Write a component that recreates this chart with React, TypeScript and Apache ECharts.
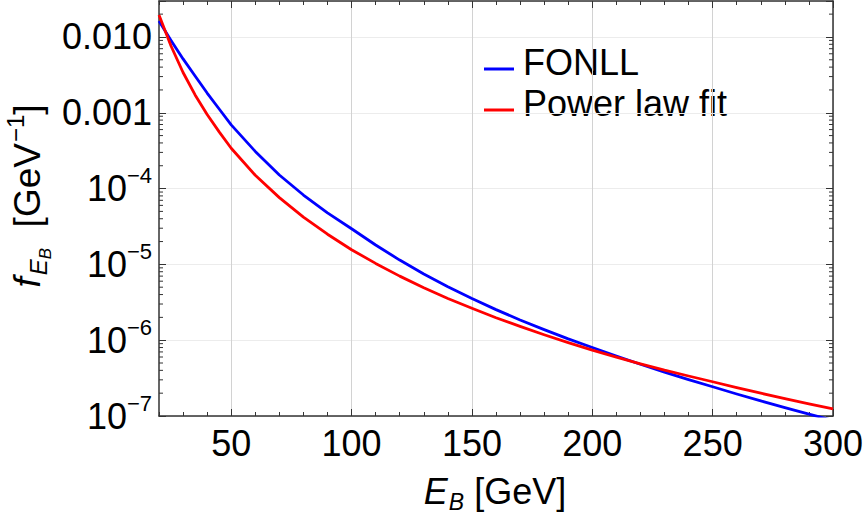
import React, { useEffect, useRef } from "react";
import * as echarts from "echarts";

// E_B [GeV]
const energies = [20, 25, 30, 35, 40, 45, 50, 60, 70, 80, 90, 100, 110, 120, 130, 140, 150, 160, 170, 180, 190, 200, 210, 220, 230, 240, 250, 260, 270, 280, 290, 300];
// FONLL (blue)
const fonll = [0.0162, 9.0e-3, 5.13e-3, 3.05e-3, 1.82e-3, 1.12e-3, 6.92e-4, 3.09e-4, 1.51e-4, 8.22e-5, 4.79e-5, 2.95e-5, 1.80e-5, 1.14e-5, 7.48e-6, 5.08e-6, 3.54e-6, 2.53e-6, 1.85e-6, 1.38e-6, 1.04e-6, 8.0e-7, 6.16e-7, 4.81e-7, 3.79e-7, 3.02e-7, 2.43e-7, 1.95e-7, 1.58e-7, 1.29e-7, 1.06e-7, 8.75e-8];
// Power law fit (red)
const powerLaw = [0.0195, 7.6e-3, 3.4e-3, 1.72e-3, 9.5e-4, 5.6e-4, 3.4e-4, 1.5e-4, 7.6e-5, 4.2e-5, 2.5e-5, 1.56e-5, 1.03e-5, 7.0e-6, 4.92e-6, 3.55e-6, 2.64e-6, 1.98e-6, 1.52e-6, 1.18e-6, 9.3e-7, 7.39e-7, 5.98e-7, 4.88e-7, 4.02e-7, 3.37e-7, 2.83e-7, 2.37e-7, 2.0e-7, 1.70e-7, 1.45e-7, 1.24e-7];

const xMin = 20;
const xMax = 300;
const xMajorTicks = [50, 100, 150, 200, 250, 300];
const yMin = 1e-7;
const yMax = 0.0298;
const yDecades = [1e-7, 1e-6, 1e-5, 1e-4, 1e-3, 1e-2];
const yMinorMultipliers = [2, 3, 4, 5, 6, 7, 8, 9];

const FONT = "'Liberation Sans', Arial, Helvetica, sans-serif";
const AXIS_COLOR = "#333333";

function yLabel(v: number): string {
  const e = Math.round(Math.log10(v));
  if (Math.abs(v / Math.pow(10, e) - 1) > 1e-6) return "";
  if (e === -2) return "0.010";
  if (e === -3) return "0.001";
  return `{b|10}{s|\u2212${-e}}`;
}

export default function App() {
  const ref = useRef<HTMLDivElement>(null);

  useEffect(() => {
    if (!ref.current) return;
    const chart = echarts.init(ref.current, null, { renderer: "svg" });

    const minorY: number[][] = [];
    yDecades.forEach((d) => {
      yMinorMultipliers.forEach((m) => {
        const v = d * m;
        if (v < yMax) minorY.push([xMin, v]);
      });
    });

    const xBase = {
      type: "value",
      min: xMin,
      max: xMax,
      gridIndex: 0,
    };

    const option: any = {
      animation: false,
      backgroundColor: "#ffffff",
      grid: {
        left: 159,
        top: 1,
        right: 32,
        bottom: 105,
        containLabel: false,
        outerBoundsMode: "none",
      },
      xAxis: [
        {
          ...xBase,
          position: "bottom",
          interval: 10,
          axisLine: { show: true, onZero: false, lineStyle: { color: AXIS_COLOR, width: 1.5 } },
          axisTick: { show: true, inside: true, length: 4, lineStyle: { color: AXIS_COLOR } },
          axisLabel: {
            show: true,
            margin: 9,
            fontSize: 36,
            fontFamily: FONT,
            color: "#000",
            formatter: (v: number) => (v % 50 === 0 ? String(v) : ""),
          },
          splitLine: { show: false },
        },
        {
          ...xBase,
          position: "bottom",
          axisLine: { show: false, onZero: false },
          axisTick: { show: true, inside: true, length: 7, customValues: xMajorTicks, lineStyle: { color: AXIS_COLOR } },
          axisLabel: { show: false },
          splitLine: { show: true, lineStyle: { color: "#d2d2d2", width: 1 } },
        },
        {
          ...xBase,
          position: "top",
          interval: 10,
          axisLine: { show: true, onZero: false, lineStyle: { color: AXIS_COLOR, width: 1.5 } },
          axisTick: { show: true, inside: true, length: 4, lineStyle: { color: AXIS_COLOR } },
          axisLabel: { show: false },
          splitLine: { show: false },
        },
        {
          ...xBase,
          position: "top",
          axisLine: { show: false, onZero: false },
          axisTick: { show: true, inside: true, length: 7, customValues: xMajorTicks, lineStyle: { color: AXIS_COLOR } },
          axisLabel: { show: false },
          splitLine: { show: false },
        },
      ],
      yAxis: [
        {
          type: "log",
          logBase: 10,
          min: yMin,
          max: yMax,
          position: "left",
          axisLine: { show: true, onZero: false, lineStyle: { color: AXIS_COLOR, width: 1.5 } },
          axisTick: { show: true, inside: true, length: 7, lineStyle: { color: AXIS_COLOR } },
          axisLabel: {
            show: true,
            margin: 7,
            fontSize: 36,
            fontFamily: FONT,
            color: "#000",
            formatter: yLabel,
            rich: {
              b: { fontSize: 36, fontFamily: FONT, color: "#000", lineHeight: 40 },
              s: { fontSize: 22, fontFamily: FONT, color: "#000", lineHeight: 22, padding: [0, 0, 26, 0] },
            },
          },
          splitLine: { show: true, lineStyle: { color: "#ececec", width: 1 } },
        },
        {
          type: "log",
          logBase: 10,
          min: yMin,
          max: yMax,
          position: "right",
          axisLine: { show: true, onZero: false, lineStyle: { color: AXIS_COLOR, width: 1.5 } },
          axisTick: { show: true, inside: true, length: 7, lineStyle: { color: AXIS_COLOR } },
          axisLabel: { show: false },
          splitLine: { show: false },
        },
      ],
      series: [
        {
          name: "FONLL",
          type: "line",
          xAxisIndex: 0,
          yAxisIndex: 0,
          data: energies.map((e, i) => [e, fonll[i]]),
          showSymbol: false,
          smooth: false,
          clip: true,
          lineStyle: { color: "#0000ff", width: 2.8, join: "round" },
          itemStyle: { color: "#0000ff" },
          z: 4,
        },
        {
          name: "Power law fit",
          type: "line",
          xAxisIndex: 0,
          yAxisIndex: 0,
          data: energies.map((e, i) => [e, powerLaw[i]]),
          showSymbol: false,
          smooth: false,
          clip: true,
          lineStyle: { color: "#ff0000", width: 2.8, join: "round" },
          itemStyle: { color: "#ff0000" },
          z: 5,
        },
        {
          type: "custom",
          xAxisIndex: 0,
          yAxisIndex: 0,
          silent: true,
          data: minorY,
          renderItem: (_params: any, api: any) => {
            const v = api.value(1);
            const l = api.coord([xMin, v]);
            const r = api.coord([xMax, v]);
            return {
              type: "group",
              children: [
                { type: "line", shape: { x1: l[0], y1: l[1], x2: l[0] + 4, y2: l[1] }, style: { stroke: AXIS_COLOR, lineWidth: 1 } },
                { type: "line", shape: { x1: r[0] - 4, y1: r[1], x2: r[0], y2: r[1] }, style: { stroke: AXIS_COLOR, lineWidth: 1 } },
              ],
            };
          },
          z: 3,
        },
      ],
      graphic: [
        // legend
        { type: "line", shape: { x1: 484, y1: 69, x2: 514, y2: 69 }, style: { stroke: "#0000ff", lineWidth: 3 } },
        { type: "text", x: 523, y: 62, style: { text: "FONLL", fontSize: 36, fontFamily: FONT, fill: "#000", align: "left", verticalAlign: "middle" } },
        { type: "line", shape: { x1: 484, y1: 110, x2: 514, y2: 110 }, style: { stroke: "#ff0000", lineWidth: 3 } },
        { type: "text", x: 523, y: 103, style: { text: "Power law fit", fontSize: 36, fontFamily: FONT, fill: "#000", align: "left", verticalAlign: "middle" } },
        // x axis title
        {
          type: "text",
          x: 495,
          y: 491,
          style: {
            text: "{i|E}{sub|B}{n| [GeV]}",
            align: "center",
            verticalAlign: "middle",
            rich: {
              i: { fontSize: 36, fontFamily: FONT, fontStyle: "italic", fill: "#000", lineHeight: 40 },
              sub: { fontSize: 23, fontFamily: FONT, fontStyle: "italic", fill: "#000", lineHeight: 23, padding: [22, 0, 0, 1] },
              n: { fontSize: 36, fontFamily: FONT, fill: "#000", lineHeight: 40 },
            },
          },
        },
        // y axis title
        {
          type: "text",
          x: 27,
          y: 196,
          rotation: Math.PI / 2,
          style: {
            text: "{i|f}{e|E}{b|B}{n|  [GeV}{s|\u22121}{n|]}",
            align: "center",
            verticalAlign: "middle",
            rich: {
              i: { fontSize: 37, fontFamily: FONT, fontStyle: "italic", fill: "#000", lineHeight: 40 },
              e: { fontSize: 24, fontFamily: FONT, fontStyle: "italic", fill: "#000", lineHeight: 24, padding: [22, 0, 0, 2] },
              b: { fontSize: 17, fontFamily: FONT, fontStyle: "italic", fill: "#000", lineHeight: 17, padding: [36, 0, 0, 0] },
              n: { fontSize: 37, fontFamily: FONT, fill: "#000", lineHeight: 40 },
              s: { fontSize: 24, fontFamily: FONT, fill: "#000", lineHeight: 24, padding: [0, 0, 24, 1] },
            },
          },
        },
      ],
    };

    chart.setOption(option);
    return () => {
      chart.dispose();
    };
  }, []);

  return (
    <div
      ref={ref}
      style={{ position: "fixed", left: 0, top: 0, width: 865, height: 521, background: "#fff" }}
    />
  );
}
